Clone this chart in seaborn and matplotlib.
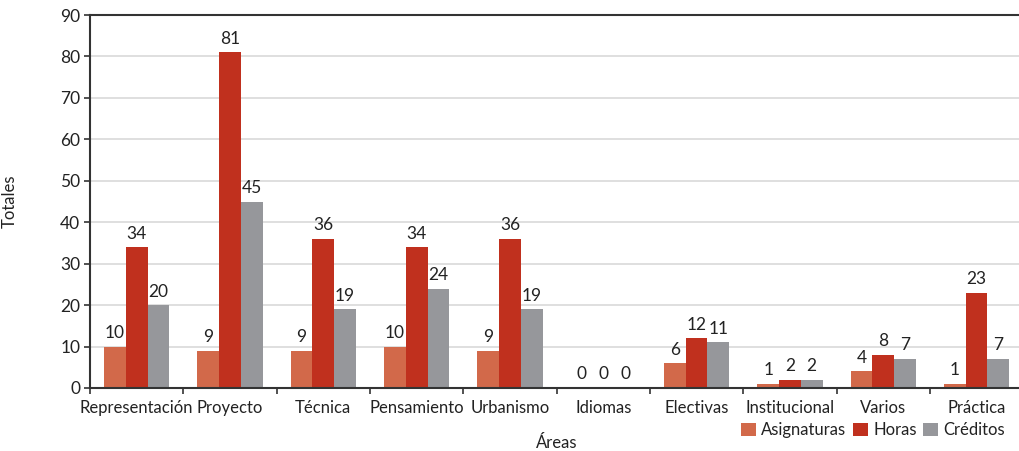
import matplotlib
matplotlib.use("Agg")
import matplotlib.pyplot as plt
import seaborn as sns
import pandas as pd
import numpy as np

categories = ["Representación", "Proyecto", "Técnica", "Pensamiento", "Urbanismo",
              "Idiomas", "Electivas", "Institucional", "Varios", "Práctica"]
asignaturas = [10, 9, 9, 10, 9, 0, 6, 1, 4, 1]
horas = [34, 81, 36, 34, 36, 0, 12, 2, 8, 23]
creditos = [20, 45, 19, 24, 19, 0, 11, 2, 7, 7]
series_names = ["Asignaturas", "Horas", "Créditos"]
colors = ["#D2694A", "#C0301E", "#96979B"]

sns.set_theme(style="white")
plt.rcParams['font.family'] = ['Lato', 'DejaVu Sans']

df = pd.DataFrame({
    "Área": categories * 3,
    "Serie": sum([[s] * len(categories) for s in series_names], []),
    "Valor": asignaturas + horas + creditos,
})

fig = plt.figure(figsize=(10.2, 4.51), dpi=100)
ax = fig.add_axes([0.0882, 0.1397, 0.915, 0.827])
sns.barplot(data=df, x="Área", y="Valor", hue="Serie", palette=colors,
            width=0.7, saturation=1, linewidth=0, ax=ax, legend=True)

for cont in ax.containers:
    ax.bar_label(cont, padding=4, fontsize=12.5, color="#222222")

ax.set_ylim(0, 90)
ax.set_yticks(np.arange(0, 91, 10))
ax.set_xlim(-0.5, len(categories) - 0.5)
ax.yaxis.grid(True, color="#d9d9d9", linewidth=1.2)
ax.set_axisbelow(True)
for s in ["left", "bottom", "top"]:
    ax.spines[s].set_visible(True)
    ax.spines[s].set_color("#333333")
    ax.spines[s].set_linewidth(1.5)
ax.spines["right"].set_visible(False)

ax.tick_params(axis="y", which="major", direction="out", length=4, width=1.2,
               color="#333333", labelsize=12.5, labelcolor="#222222", left=True, pad=3)
ax.tick_params(axis="x", which="major", length=0, labelsize=12, labelcolor="#222222", pad=9)
ax.set_xticks(np.arange(-0.5, len(categories), 1), minor=True)
ax.tick_params(axis="x", which="minor", direction="out", length=4, width=1.2,
               color="#333333", bottom=True)

ax.set_xlabel("Áreas", fontsize=12, color="#222222")
ax.xaxis.set_label_coords(0.5, -0.125)
ax.set_ylabel("Totales", fontsize=12, color="#222222")
ax.yaxis.set_label_coords(-0.077, 0.5)

handles, labels = ax.get_legend_handles_labels()
ax.get_legend().remove()
fig.legend(handles, labels, loc="lower right", bbox_to_anchor=(1.0, -0.005), ncol=3,
           frameon=False, fontsize=12, handlelength=0.9, handleheight=0.9,
           handletextpad=0.3, columnspacing=0.4, labelcolor="#222222")

fig.savefig("out.png", dpi=100)
